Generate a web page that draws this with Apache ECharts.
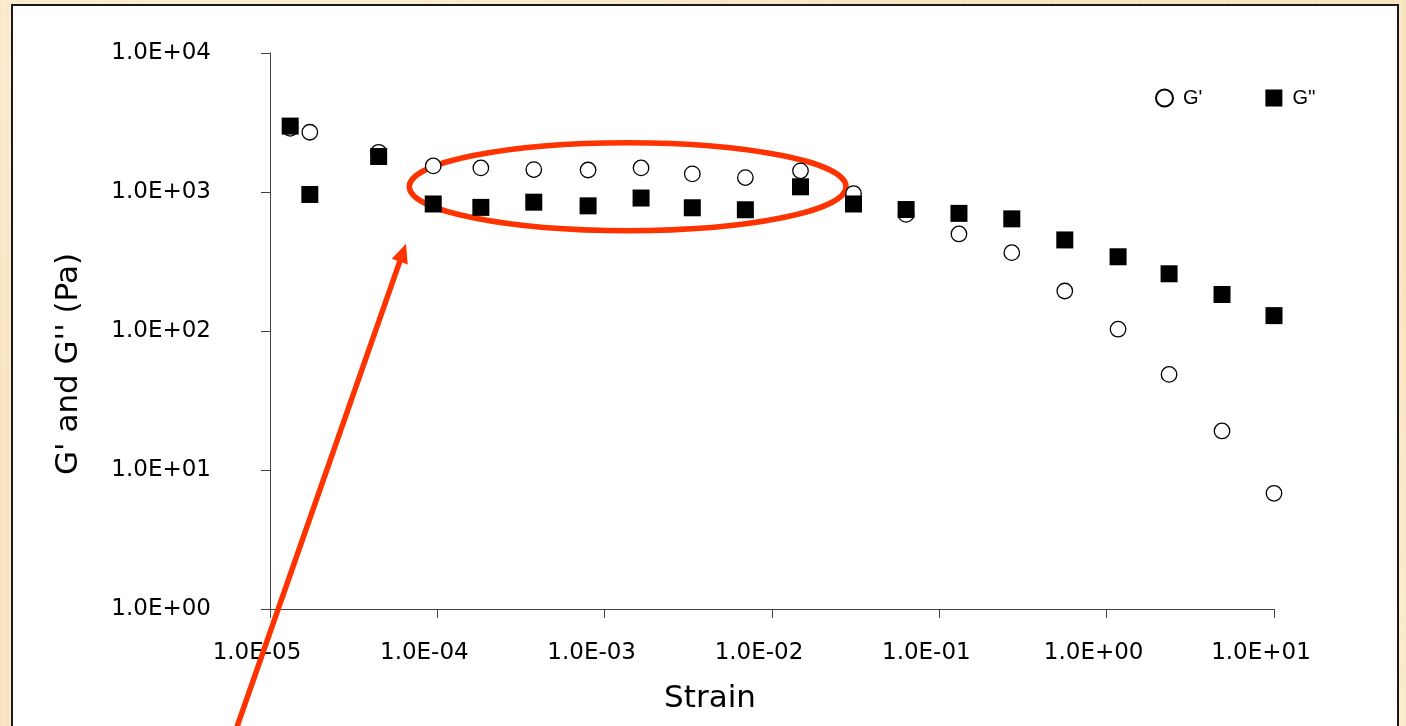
<!DOCTYPE html>
<html>
<head>
<meta charset="utf-8">
<script src="https://cdn.jsdelivr.net/npm/echarts@6/dist/echarts.min.js"></script>
<style>
  html, body { margin: 0; padding: 0; width: 1406px; height: 726px; overflow: hidden; }
  body {
    background-color: #f8e4c1;
    background-image:
      radial-gradient(ellipse at 20% 10%, rgba(255,248,230,0.55), rgba(255,248,230,0) 40%),
      radial-gradient(ellipse at 85% 90%, rgba(255,246,225,0.5), rgba(255,246,225,0) 45%),
      repeating-linear-gradient(90deg, rgba(238,210,168,0.22) 0px, rgba(255,242,218,0.22) 3px, rgba(242,218,180,0.18) 7px, rgba(255,245,225,0.22) 11px);
  }
  #panel {
    position: absolute; left: 11px; top: 4px; width: 1388px; height: 760px;
    background: #fff; border: 2px solid #1a1a1a; box-sizing: border-box;
  }
  #chart { position: absolute; left: 0; top: 0; width: 1406px; height: 726px; }
</style>
</head>
<body>
<div id="panel"></div>
<div id="chart"></div>
<script>
// Strain sweep: storage (G') and loss (G'') moduli, Pa
const strain = [1.32e-5, 1.73e-5, 4.46e-5, 9.45e-5, 1.82e-4, 3.77e-4, 7.96e-4, 1.65e-3, 3.34e-3, 6.93e-3,
                1.48e-2, 3.07e-2, 6.33e-2, 0.131, 0.271, 0.562, 1.17, 2.36, 4.89, 10.0];
const gStorage = [2870, 2690, 1930, 1540, 1490, 1450, 1440, 1490, 1350, 1270,
                  1420, 975, 690, 499, 366, 194, 103, 48.7, 19.1, 6.8];
const gLoss = [2980, 960, 1800, 820, 775, 845, 795, 905, 770, 745,
               1090, 820, 748, 702, 641, 452, 342, 258, 183, 129];

const seriesNames = ["G'", "G''"];
const xTickLabels = ['1.0E-05', '1.0E-04', '1.0E-03', '1.0E-02', '1.0E-01', '1.0E+00', '1.0E+01'];
const yTickLabels = ['1.0E+00', '1.0E+01', '1.0E+02', '1.0E+03', '1.0E+04'];

// Annotation: the linear viscoelastic plateau (bounds in data units) and a pointer to it
const plateauStrain = [6.8e-5, 2.77e-2];
const plateauModulus = [527, 2264];
const pointerFrom = [5.97e-6, 0.115];
const pointerTo = [6.5e-5, 425];

const FONT = 'DejaVu Sans';
const RED = '#ff3300';

const chart = echarts.init(document.getElementById('chart'), null, { renderer: 'canvas' });

const pair = (xs, ys) => xs.map((x, i) => [x, ys[i]]);

chart.setOption({
  backgroundColor: 'transparent',
  animation: false,
  grid: { left: 270, right: 132, top: 53, bottom: 117, containLabel: false },
  legend: {
    data: seriesNames,
    left: 1150, top: 83,
    itemWidth: 17, itemHeight: 17, itemGap: 63,
    textStyle: { fontFamily: 'Liberation Sans', fontSize: 20, color: '#000', padding: [0, 0, 8, 5] }
  },
  xAxis: {
    type: 'log', logBase: 10, min: 1e-5, max: 10, splitNumber: 6,
    name: 'Strain', nameLocation: 'middle', nameGap: 74,
    nameTextStyle: { fontFamily: FONT, fontSize: 31, color: '#000', padding: [0, 124, 0, 0] },
    axisLine: { show: true, lineStyle: { color: '#444', width: 1 } },
    axisTick: { show: true, inside: false, length: 9, lineStyle: { color: '#444', width: 1 } },
    minorTick: { show: false },
    splitLine: { show: false },
    axisLabel: {
      fontFamily: FONT, fontSize: 23, color: '#000', margin: 33, padding: [0, 26, 0, 0],
      formatter: v => xTickLabels[Math.round(Math.log10(v)) + 5]
    }
  },
  yAxis: {
    type: 'log', logBase: 10, min: 1, max: 1e4, splitNumber: 4,
    name: "G' and G'' (Pa)", nameLocation: 'middle', nameGap: 186,
    nameTextStyle: { fontFamily: FONT, fontSize: 31, color: '#000', padding: [0, 66, 0, 0] },
    axisLine: { show: true, lineStyle: { color: '#444', width: 1 } },
    axisTick: { show: true, inside: false, length: 9, lineStyle: { color: '#444', width: 1 } },
    minorTick: { show: false },
    splitLine: { show: false },
    axisLabel: {
      fontFamily: FONT, fontSize: 23, color: '#000', margin: 59, padding: [0, 0, 14, 0],
      formatter: v => yTickLabels[Math.round(Math.log10(v))]
    }
  },
  series: [
    {
      name: seriesNames[0], type: 'scatter', clip: false,
      symbol: 'circle', symbolSize: 15.5,
      itemStyle: { color: '#fff', borderColor: '#000', borderWidth: 1.3, opacity: 1 },
      data: pair(strain, gStorage)
    },
    {
      name: seriesNames[1], type: 'scatter', clip: false,
      symbol: 'rect', symbolSize: 17,
      itemStyle: { color: '#000', opacity: 1 },
      data: pair(strain, gLoss)
    }
  ]
});

// Overlay the annotation, placed through the axes
function drawAnnotation() {
  const toPx = p => chart.convertToPixel({ gridIndex: 0 }, p);
  const a = toPx([plateauStrain[0], plateauModulus[1]]);
  const b = toPx([plateauStrain[1], plateauModulus[0]]);
  const cx = (a[0] + b[0]) / 2, cy = (a[1] + b[1]) / 2;
  const rx = Math.abs(b[0] - a[0]) / 2, ry = Math.abs(b[1] - a[1]) / 2;

  const p0 = toPx(pointerFrom), p1 = toPx(pointerTo);
  const dx = p1[0] - p0[0], dy = p1[1] - p0[1];
  const len = Math.hypot(dx, dy);
  const ux = dx / len, uy = dy / len, nx = -uy, ny = ux;
  const headLen = 19, headHalf = 8.5;
  const base = [p1[0] - ux * headLen, p1[1] - uy * headLen];

  chart.setOption({
    graphic: [
      {
        type: 'ellipse', z: 1, silent: true,
        shape: { cx, cy, rx, ry },
        style: { fill: 'none', stroke: RED, lineWidth: 5.5 }
      },
      {
        type: 'line', z: 100, silent: true,
        shape: { x1: p0[0], y1: p0[1], x2: base[0] + ux * 2, y2: base[1] + uy * 2 },
        style: { stroke: RED, lineWidth: 5.5 }
      },
      {
        type: 'polygon', z: 100, silent: true,
        shape: { points: [
          [p1[0], p1[1]],
          [base[0] + nx * headHalf, base[1] + ny * headHalf],
          [base[0] - nx * headHalf, base[1] - ny * headHalf]
        ] },
        style: { fill: RED }
      }
    ]
  });
}
drawAnnotation();
</script>
</body>
</html>
